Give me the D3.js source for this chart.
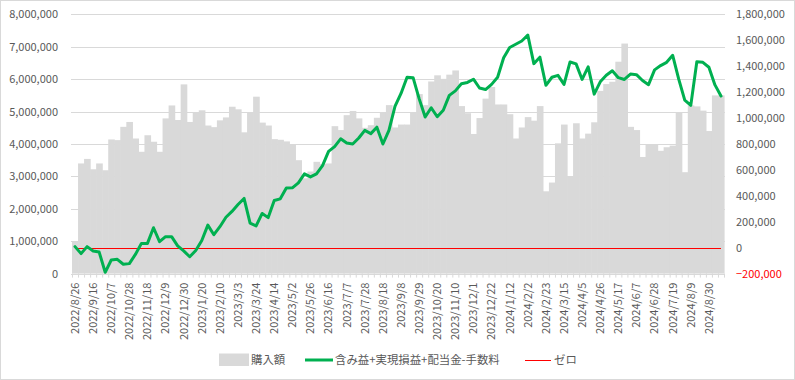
<!DOCTYPE html>
<html>
<head>
<meta charset="utf-8">
<script src="https://cdn.jsdelivr.net/npm/d3@7"></script>
<style>
  html, body { margin: 0; padding: 0; background: #fff; }
  svg { display: block; }
  text { font-family: "Noto Sans CJK JP", "Noto Sans", sans-serif; }
</style>
</head>
<body>
<svg id="chart" width="795" height="380"></svg>
<script>
// ---------- data ----------
const dates = [
  "2022/8/26","2022/9/2","2022/9/9","2022/9/16","2022/9/23","2022/9/30","2022/10/7","2022/10/14","2022/10/21","2022/10/28",
  "2022/11/4","2022/11/11","2022/11/18","2022/11/25","2022/12/2","2022/12/9","2022/12/16","2022/12/23","2022/12/30",
  "2023/1/6","2023/1/13","2023/1/20","2023/1/27","2023/2/3","2023/2/10","2023/2/17","2023/2/24","2023/3/3","2023/3/10",
  "2023/3/17","2023/3/24","2023/3/31","2023/4/7","2023/4/14","2023/4/21","2023/4/28","2023/5/2","2023/5/12","2023/5/19",
  "2023/5/26","2023/6/2","2023/6/9","2023/6/16","2023/6/23","2023/6/30","2023/7/7","2023/7/14","2023/7/21","2023/7/28",
  "2023/8/4","2023/8/11","2023/8/18","2023/8/25","2023/9/1","2023/9/8","2023/9/15","2023/9/22","2023/9/29","2023/10/6",
  "2023/10/13","2023/10/20","2023/10/27","2023/11/2","2023/11/10","2023/11/17","2023/11/24","2023/12/1","2023/12/8","2023/12/15",
  "2023/12/22","2023/12/29","2024/1/5","2024/1/12","2024/1/19","2024/1/26","2024/2/2","2024/2/9","2024/2/16","2024/2/23",
  "2024/3/1","2024/3/8","2024/3/15","2024/3/22","2024/3/29","2024/4/5","2024/4/12","2024/4/19","2024/4/26","2024/5/2",
  "2024/5/10","2024/5/17","2024/5/24","2024/5/31","2024/6/7","2024/6/14","2024/6/21","2024/6/28","2024/7/5","2024/7/12",
  "2024/7/19","2024/7/26","2024/8/2","2024/8/9","2024/8/16","2024/8/23","2024/8/30","2024/9/6","2024/9/13"
];

// 購入額 (left axis)
const purchase = [
  980000, 3400000, 3540000, 3220000, 3400000, 3190000, 4140000, 4120000, 4530000, 4680000,
  4170000, 3760000, 4270000, 4070000, 3760000, 4790000, 5190000, 4740000, 5840000, 4680000,
  4970000, 5040000, 4570000, 4520000, 4730000, 4820000, 5150000, 5070000, 4360000, 4960000,
  5460000, 4660000, 4570000, 4150000, 4130000, 4080000, 4000000, 3500000, 2940000, 3150000,
  3450000, 3380000, 3400000, 4550000, 4430000, 4890000, 5020000, 4790000, 4500000, 4580000,
  4810000, 4960000, 5200000, 4510000, 4600000, 4600000, 4960000, 5540000, 5200000, 5930000,
  6120000, 6010000, 6140000, 6270000, 5170000, 4950000, 4310000, 4800000, 5400000, 5760000,
  5220000, 5220000, 4920000, 4170000, 4510000, 4830000, 4720000, 5170000, 2540000, 2810000,
  4020000, 4600000, 2990000, 4640000, 4170000, 4320000, 4670000, 5640000, 5850000, 5920000,
  6540000, 7100000, 4530000, 4430000, 3600000, 4000000, 4000000, 3790000, 3900000, 3950000,
  4960000, 3130000, 5190000, 5160000, 5030000, 4400000, 5500000, 5500000
];

// 含み益+実現損益+配当金-手数料 (right axis)
const profit = [
  8000, -46000, 8000, -26000, -34000, -190000, -95000, -90000, -128000, -123000,
  -52000, 33000, 33000, 154000, 46000, 85000, 85000, 14000, -25000, -70000,
  -22000, 55000, 174000, 100000, 162000, 235000, 280000, 333000, 380000, 190000,
  168000, 264000, 232000, 364000, 377000, 460000, 462000, 500000, 570000, 546000,
  570000, 633000, 743000, 780000, 840000, 807000, 800000, 846000, 905000, 880000,
  930000, 800000, 905000, 1090000, 1190000, 1315000, 1312000, 1150000, 1008000, 1080000,
  1010000, 1060000, 1175000, 1210000, 1265000, 1275000, 1300000, 1232000, 1220000, 1260000,
  1315000, 1465000, 1545000, 1570000, 1595000, 1640000, 1420000, 1470000, 1253000, 1315000,
  1330000, 1260000, 1433000, 1418000, 1298000, 1395000, 1185000, 1280000, 1330000, 1365000,
  1312000, 1298000, 1340000, 1335000, 1290000, 1258000, 1372000, 1405000, 1430000, 1484000,
  1300000, 1138000, 1098000, 1435000, 1430000, 1392000, 1256000, 1170000
];

// ゼロ (right axis, constant zero series)
const zeroSeries = dates.map(() => 0);

const leftTicks = [0, 1000000, 2000000, 3000000, 4000000, 5000000, 6000000, 7000000, 8000000];
const rightTicks = [-200000, 0, 200000, 400000, 600000, 800000, 1000000, 1200000, 1400000, 1600000, 1800000];
const legendLabels = ["購入額", "含み益+実現損益+配当金-手数料", "ゼロ"];

// ---------- layout ----------
const W = 795, H = 380;
const plot = { left: 72, right: 724, top: 14.4, bottom: 273.6 };
const colors = { bar: "#D9D9D9", grid: "#D9D9D9", line: "#00B050", zero: "#FF0000", text: "#595959" };

const svg = d3.select("#chart");

// chart area border
svg.append("rect")
  .attr("x", 0.5).attr("y", 0.5).attr("width", W - 1).attr("height", H - 1)
  .attr("fill", "#fff").attr("stroke", "#D9D9D9");

const x = d3.scaleBand().domain(dates).range([plot.left, plot.right]).padding(0);
const yL = d3.scaleLinear().domain([0, 8000000]).range([plot.bottom, plot.top]);
const yR = d3.scaleLinear().domain([-200000, 1800000]).range([plot.bottom, plot.top]);
const cx = d => x(d) + x.bandwidth() / 2;

// gridlines
svg.append("g").selectAll("line").data(leftTicks).join("line")
  .attr("x1", plot.left - 1).attr("x2", plot.right + 1)
  .attr("y1", d => Math.round(yL(d)) + 0.5).attr("y2", d => Math.round(yL(d)) + 0.5)
  .attr("stroke", colors.grid).attr("stroke-width", 1);

// bars
svg.append("g").selectAll("rect").data(purchase).join("rect")
  .attr("x", (d, i) => x(dates[i]))
  .attr("width", x.bandwidth() + 0.6)
  .attr("y", d => yL(d))
  .attr("height", d => yL(0) - yL(d))
  .attr("fill", colors.bar);

// minor category tick marks
const tickScale = d3.scaleLinear().domain([0, dates.length]).range([plot.left, plot.right]);
const tickAxis = d3.axisBottom(tickScale).tickValues(d3.range(0, dates.length + 1)).tickSize(4).tickFormat("");
const tg = svg.append("g").attr("transform", `translate(0,${plot.bottom})`).call(tickAxis);
tg.select(".domain").remove();
tg.selectAll("line").attr("stroke", colors.grid);

// zero line
svg.append("path")
  .datum(zeroSeries)
  .attr("fill", "none").attr("stroke", colors.zero).attr("stroke-width", 1.3)
  .attr("shape-rendering", "crispEdges")
  .attr("d", d3.line().x((d, i) => cx(dates[i])).y(d => Math.round(yR(d)) + 0.5));

// profit line
svg.append("path")
  .datum(profit)
  .attr("fill", "none").attr("stroke", colors.line).attr("stroke-width", 3)
  .attr("stroke-linejoin", "round").attr("stroke-linecap", "round")
  .attr("d", d3.line().x((d, i) => cx(dates[i])).y(d => yR(d)));

// left axis labels
const fmt = d3.format(",");
const la = svg.append("g").attr("transform", `translate(${plot.left - 13},0)`)
  .call(d3.axisLeft(yL).tickValues(leftTicks).tickFormat(fmt).tickSize(0).tickPadding(1));
la.select(".domain").remove();
la.selectAll("text").attr("fill", colors.text).style("font-size", "11px")
  .style("font-family", '"Noto Sans CJK JP", sans-serif');

// right axis labels
const ra = svg.append("g").attr("transform", `translate(${plot.right + 11},0)`)
  .call(d3.axisRight(yR).tickValues(rightTicks).tickFormat(fmt).tickSize(0).tickPadding(1));
ra.select(".domain").remove();
ra.selectAll("text").attr("fill", d => d < 0 ? colors.zero : colors.text).style("font-size", "11px")
  .style("font-family", '"Noto Sans CJK JP", sans-serif');

// x axis labels (every 3rd category)
const xa = svg.append("g").attr("transform", `translate(0,${plot.bottom})`)
  .call(d3.axisBottom(x).tickValues(dates.filter((d, i) => i % 3 === 0)).tickSize(0).tickPadding(0));
xa.select(".domain").remove();
xa.selectAll("text")
  .attr("fill", colors.text).style("font-size", "11px")
  .style("font-family", '"Noto Sans CJK JP", sans-serif')
  .attr("text-anchor", "end")
  .attr("transform", "translate(0,9) rotate(-90)")
  .attr("x", 0).attr("y", 0).attr("dy", "0.35em");

// legend
const lg = svg.append("g").style("font-size", "11.4px").style("font-family", '"Noto Sans CJK JP", sans-serif');
lg.append("rect").attr("x", 219).attr("y", 353.5).attr("width", 30).attr("height", 12.5).attr("fill", colors.bar);
lg.append("text").attr("x", 251).attr("y", 360).attr("dy", "0.35em").attr("fill", colors.text).text(legendLabels[0]);
lg.append("line").attr("x1", 305).attr("x2", 333).attr("y1", 360).attr("y2", 360)
  .attr("stroke", colors.line).attr("stroke-width", 3);
lg.append("text").attr("x", 335).attr("y", 360).attr("dy", "0.35em").attr("fill", colors.text).text(legendLabels[1]);
lg.append("line").attr("x1", 525).attr("x2", 551).attr("y1", 360.5).attr("y2", 360.5)
  .attr("stroke", colors.zero).attr("stroke-width", 1.3).attr("shape-rendering", "crispEdges");
lg.append("text").attr("x", 554).attr("y", 360).attr("dy", "0.35em").attr("fill", colors.text).text(legendLabels[2]);
</script>
</body>
</html>
